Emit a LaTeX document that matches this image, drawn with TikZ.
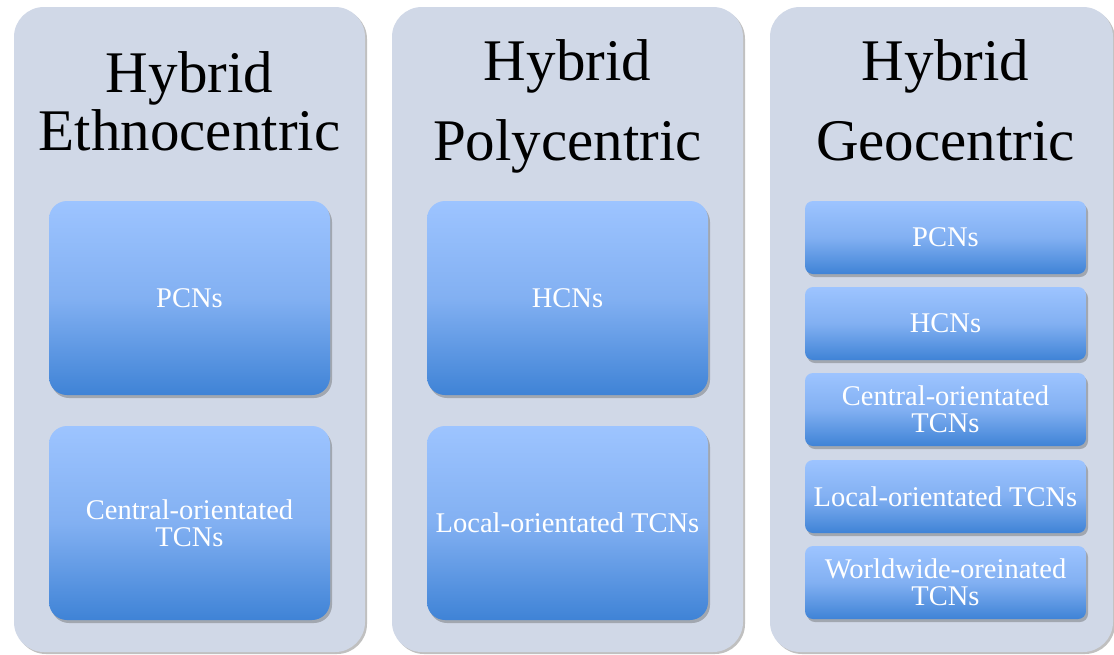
\documentclass[tikz,border=0pt]{standalone}
\usepackage{fontspec}
\setmainfont{Liberation Serif}
\usetikzlibrary{shadows}
\definecolor{colbg}{HTML}{D0D8E7}
\definecolor{boxtop}{HTML}{9DC4FF}
\definecolor{boxmid}{HTML}{82B0F2}
\definecolor{boxbot}{HTML}{3F83D6}
\tikzset{
  column/.style={rectangle, rounded corners=30pt, fill=colbg, draw=none,
    minimum height=645pt, inner sep=0pt,
    drop shadow={shadow xshift=2pt, shadow yshift=-2pt, opacity=0.35, fill=black!70}},
  bigbox/.style={rectangle, rounded corners=18pt, draw=none,
    top color=boxtop, bottom color=boxbot, middle color=boxmid,
    minimum width=281pt, minimum height=194pt, inner sep=0pt,
    text=white, align=center, font=\fontsize{28.5}{27}\selectfont,
    drop shadow={shadow xshift=2pt, shadow yshift=-3pt, opacity=0.35, fill=black!70}},
  smallbox/.style={rectangle, rounded corners=8pt, draw=none,
    top color=boxtop, bottom color=boxbot, middle color=boxmid,
    minimum width=281pt, minimum height=73pt, inner sep=0pt,
    text=white, align=center, font=\fontsize{28.5}{27}\selectfont,
    drop shadow={shadow xshift=2pt, shadow yshift=-3pt, opacity=0.35, fill=black!70}},
  title/.style={anchor=base, inner sep=0pt, font=\fontsize{59}{59}\selectfont, text=black}
}
\begin{document}
\begin{tikzpicture}[x=1pt,y=-1pt]
\fill[white] (0,0) rectangle (1114,654);
\useasboundingbox (0,0) rectangle (1114,654);
% columns
\node[column, minimum width=351pt] (c1) at (189.5,329.5) {};
\node[column, minimum width=351pt] (c2) at (567.5,329.5) {};
\node[column, minimum width=343pt] (c3) at (941.5,329.5) {};
% titles
\node[title] (t1a) at (189.5,92) {Hybrid};
\node[title] (t1b) at (189.5,150) {Ethnocentric};
\node[title] (t2a) at (567.5,80) {Hybrid};
\node[title] (t2b) at (567.5,160) {Polycentric};
\node[title] (t3a) at (945.5,80) {Hybrid};
\node[title] (t3b) at (945.5,160) {Geocentric};
% column 1
\node[bigbox] (b11) at (189.5,298) {PCNs};
\node[bigbox] (b12) at (189.5,523) {Central-orientated\\TCNs};
% column 2
\node[bigbox] (b21) at (567.5,298) {HCNs};
\node[bigbox] (b22) at (567.5,523) {Local-orientated TCNs};
% column 3
\node[smallbox] (b31) at (945.5,237.5) {PCNs};
\node[smallbox] (b32) at (945.5,323.5) {HCNs};
\node[smallbox] (b33) at (945.5,409.5) {Central-orientated\\TCNs};
\node[smallbox] (b34) at (945.5,496.5) {Local-orientated TCNs};
\node[smallbox] (b35) at (945.5,582.5) {Worldwide-oreinated\\TCNs};
\end{tikzpicture}
\end{document}
